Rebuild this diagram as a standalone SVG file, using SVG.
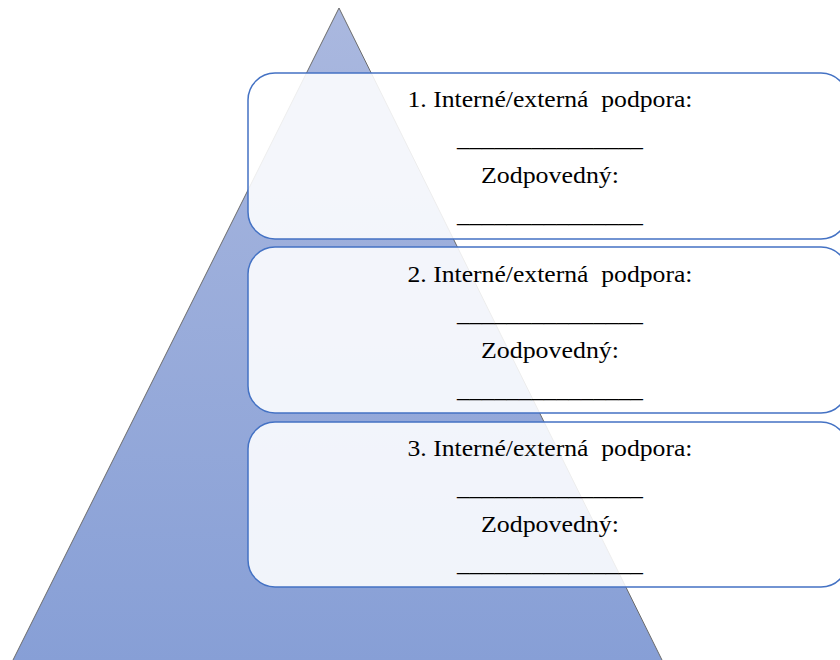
<svg xmlns="http://www.w3.org/2000/svg" width="840" height="660" viewBox="0 0 840 660">
  <defs>
    <linearGradient id="triGrad" x1="0" y1="0" x2="0" y2="1">
      <stop offset="0" stop-color="#aab8df"/>
      <stop offset="1" stop-color="#879fd6"/>
    </linearGradient>
    <style>
      .box { fill: #ffffff; fill-opacity: 0.88; stroke: #4472c4; stroke-width: 1.5; }
      .t { font-family: "Liberation Serif", "Times New Roman", serif; font-size: 24px; fill: #000000; text-anchor: middle; }
    </style>
  </defs>
  <rect width="840" height="660" fill="#ffffff"/>
  <g id="pyramid">
    <polygon points="339,8 12,662 663,662" fill="url(#triGrad)" stroke="#6b6b6b" stroke-width="1"/>
  </g>
  <g id="connectors"></g>
  <g id="box1">
    <rect class="box" x="248" y="73" width="600" height="166" rx="27" ry="27"/>
    <text class="t" x="550" y="107" textLength="285" lengthAdjust="spacingAndGlyphs" xml:space="preserve">1. Interné/externá  podpora:</text>
    <text class="t" x="550" y="146" textLength="186" lengthAdjust="spacingAndGlyphs">_______________</text>
    <text class="t" x="550" y="183" textLength="138" lengthAdjust="spacingAndGlyphs">Zodpovedný:</text>
    <text class="t" x="550" y="222" textLength="186" lengthAdjust="spacingAndGlyphs">_______________</text>
  </g>
  <g id="box2">
    <rect class="box" x="248" y="247" width="600" height="166" rx="27" ry="27"/>
    <text class="t" x="550" y="282" textLength="285" lengthAdjust="spacingAndGlyphs" xml:space="preserve">2. Interné/externá  podpora:</text>
    <text class="t" x="550" y="321" textLength="186" lengthAdjust="spacingAndGlyphs">_______________</text>
    <text class="t" x="550" y="358" textLength="138" lengthAdjust="spacingAndGlyphs">Zodpovedný:</text>
    <text class="t" x="550" y="397" textLength="186" lengthAdjust="spacingAndGlyphs">_______________</text>
  </g>
  <g id="box3">
    <rect class="box" x="248" y="422" width="600" height="165" rx="27" ry="27"/>
    <text class="t" x="550" y="456" textLength="285" lengthAdjust="spacingAndGlyphs" xml:space="preserve">3. Interné/externá  podpora:</text>
    <text class="t" x="550" y="495" textLength="186" lengthAdjust="spacingAndGlyphs">_______________</text>
    <text class="t" x="550" y="532" textLength="138" lengthAdjust="spacingAndGlyphs">Zodpovedný:</text>
    <text class="t" x="550" y="571" textLength="186" lengthAdjust="spacingAndGlyphs">_______________</text>
  </g>
</svg>
